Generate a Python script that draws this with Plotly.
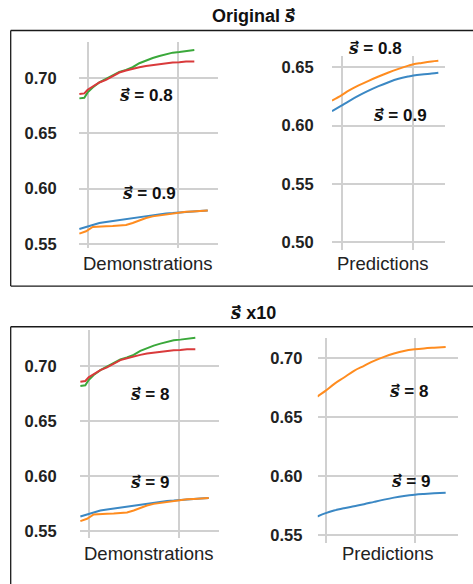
import plotly.graph_objects as go

W, H = 473, 584

# ---- data -------------------------------------------------------------
# Demonstrations panels (same curves in both sections)
demo_x_top = [9.04, 9.59, 9.96, 10.52, 11.26, 12.0, 12.74, 13.48, 14.22, 14.96,
              15.7, 16.44, 17.19, 17.93, 18.67, 19.41, 20.15, 20.89, 21.81]
demo_green = [0.6817, 0.6823, 0.6871, 0.6916, 0.6961, 0.6991, 0.7027, 0.7057, 0.7075, 0.7099,
              0.7135, 0.7162, 0.7183, 0.7201, 0.7219, 0.7231, 0.7237, 0.7246, 0.7255]
demo_red = [0.6856, 0.6862, 0.6895, 0.6925, 0.6961, 0.6985, 0.7021, 0.7051, 0.7069, 0.7087,
            0.7099, 0.7111, 0.7120, 0.7129, 0.7135, 0.7141, 0.7144, 0.7150, 0.7150]

demo_x_low = [9.04, 9.78, 10.52, 11.26, 12.0, 12.74, 13.48, 14.22, 14.96, 15.7,
              16.44, 17.19, 17.93, 18.67, 19.41, 20.15, 20.89, 21.63, 22.37, 23.3]
demo_blue = [0.5635, 0.5653, 0.5674, 0.5689, 0.5698, 0.5707, 0.5719, 0.5728, 0.5737, 0.5743,
             0.5755, 0.5764, 0.5770, 0.5776, 0.5779, 0.5785, 0.5788, 0.5794, 0.5797, 0.5803]
demo_orange = [0.5593, 0.5614, 0.5653, 0.5659, 0.5659, 0.5662, 0.5665, 0.5671, 0.5689, 0.5713,
               0.5734, 0.5749, 0.5758, 0.5767, 0.5776, 0.5785, 0.5790, 0.5794, 0.5800, 0.5803]

# Predictions, original s
pred1_x = [8.65, 9.96, 10.97, 12.36, 13.75, 15.14, 16.53, 17.92, 19.31, 20.0, 21.16, 22.54, 23.47]
pred1_orange = [0.6214, 0.6259, 0.6299, 0.6344, 0.6384, 0.6421, 0.6455, 0.6486, 0.6514, 0.6526,
                0.6537, 0.6549, 0.6555]
pred1_blue = [0.6123, 0.6171, 0.6208, 0.6256, 0.6299, 0.6338, 0.6372, 0.6401, 0.6421, 0.6429,
              0.6438, 0.6446, 0.6452]

# Predictions, s x10
pred2_x = [9.06, 10.0, 10.93, 12.06, 13.18, 14.3, 15.43, 16.55, 17.67, 18.8, 20.0, 21.04, 22.17, 23.48]
pred2_orange = [0.6675, 0.6725, 0.6781, 0.6837, 0.6894, 0.6936, 0.6978, 0.7012, 0.7040, 0.7062,
                0.7076, 0.7084, 0.7090, 0.7096]
pred2_blue = [0.5657, 0.5685, 0.5707, 0.5727, 0.5744, 0.5761, 0.5781, 0.5800, 0.5817, 0.5831,
              0.5842, 0.5848, 0.5853, 0.5859]

demo_ticks = [0.55, 0.60, 0.65, 0.70]
pred1_ticks = [0.50, 0.55, 0.60, 0.65]
pred2_ticks = [0.55, 0.60, 0.65, 0.70]
tick_text = lambda vals: [f"{v:.2f}" for v in vals]

GREEN, RED, BLUE, ORANGE = "#3aa83a", "#d93a3b", "#3b88c4", "#ff8c1f"
VEC_S = "<span style=\"font-family:'DejaVu Serif'\"><b><i>s</i></b>\u20d7</span>"

def px(p):
    return p / W

def py(p):
    return 1 - p / H

fig = go.Figure()

def line(x, y, color, ax, spline=False):
    fig.add_trace(go.Scatter(
        x=x, y=y, mode="lines", xaxis="x" + ax, yaxis="y" + ax,
        line=dict(color=color, width=2, shape="spline" if spline else "linear", smoothing=1.0),
        showlegend=False, hoverinfo="skip"))

line(demo_x_low, demo_blue, BLUE, "")
line(demo_x_low, demo_orange, ORANGE, "")
line(demo_x_top, demo_green, GREEN, "")
line(demo_x_top, demo_red, RED, "")

line(pred1_x, pred1_blue, BLUE, "2", True)
line(pred1_x, pred1_orange, ORANGE, "2", True)

line(demo_x_low, demo_blue, BLUE, "3")
line(demo_x_low, demo_orange, ORANGE, "3")
line(demo_x_top, demo_green, GREEN, "3")
line(demo_x_top, demo_red, RED, "3")

line(pred2_x, pred2_blue, BLUE, "4", True)
line(pred2_x, pred2_orange, ORANGE, "4", True)

tickfont = dict(family="Liberation Sans", size=16.5, color="#222222", weight="bold")
GRID = "#d0d0d0"

def xaxis(dom, rng, anchor):
    return dict(domain=[px(dom[0]), px(dom[1])], range=rng, anchor=anchor,
                tickvals=[10, 20], showticklabels=False, ticks="",
                showgrid=True, gridcolor=GRID, gridwidth=1.5,
                zeroline=False, showline=False, fixedrange=True)

def yaxis(dom, rng, anchor, ticks, gap):
    return dict(domain=[py(dom[1]), py(dom[0])], range=rng, anchor=anchor,
                tickvals=ticks, ticktext=tick_text(ticks), tickfont=tickfont,
                ticks="outside", ticklen=gap, tickcolor="rgba(0,0,0,0)",
                showgrid=True, gridcolor=GRID, gridwidth=1.5,
                zeroline=False, showline=False, fixedrange=True)

layout = dict(
    width=W, height=H, margin=dict(l=0, r=0, t=0, b=0),
    paper_bgcolor="white", plot_bgcolor="white",
    xaxis=xaxis((79, 218), [9.0, 24.44], "y"),
    yaxis=yaxis((42, 250), [0.546, 0.733], "x", demo_ticks, 18),
    xaxis2=xaxis((332, 445), [8.65, 24.4], "y2"),
    yaxis2=yaxis((56.7, 252), [0.493, 0.6594], "x2", pred1_ticks, 14),
    xaxis3=xaxis((80, 219), [9.0, 24.44], "y3"),
    yaxis3=yaxis((332.3, 541.7), [0.544, 0.7324], "x3", demo_ticks, 19),
    xaxis4=xaxis((317.7, 457.7), [9.1, 24.83], "y4"),
    yaxis4=yaxis((340, 546.7), [0.5432, 0.7175], "x4", pred2_ticks, 11),
)
fig.update_layout(**layout)

def label(text, x, y, size, bold=True, color="#111111"):
    fig.add_annotation(
        text=text, x=px(x), y=py(y), xref="paper", yref="paper",
        xanchor="center", yanchor="middle", showarrow=False,
        font=dict(family="Liberation Sans", size=size, color=color,
                  weight="bold" if bold else "normal"))

# section titles
label(f"Original {VEC_S}", 253.5, 15.5, 18)
label(f"{VEC_S} x10", 253, 314.5, 18)

# x-axis titles
label("Demonstrations", 148, 265, 18.5, bold=False, color="#222222")
label("Predictions", 383, 265, 18.5, bold=False, color="#222222")
label("Demonstrations", 148.5, 557, 18.5, bold=False, color="#222222")
label("Predictions", 387.5, 557, 18.5, bold=False, color="#222222")

# curve labels
label(f"{VEC_S} = 0.8", 146, 95.5, 17)
label(f"{VEC_S} = 0.9", 148.5, 194.5, 17)
label(f"{VEC_S} = 0.8", 375, 48.5, 17)
label(f"{VEC_S} = 0.9", 400, 115.5, 17)
label(f"{VEC_S} = 8", 149.7, 397, 17)
label(f"{VEC_S} = 9", 149.7, 485.3, 17)
label(f"{VEC_S} = 8", 408, 394, 17)
label(f"{VEC_S} = 9", 410.5, 484, 17)

# section frames (open on the right)
FRAME = dict(color="#1a1a1a", width=1.3)
for top, bottom in [(30.7, 288.0), (329.0, 590.0)]:
    fig.add_shape(type="line", xref="paper", yref="paper",
                  x0=px(10.7), x1=px(480), y0=py(top), y1=py(top), line=FRAME)
    fig.add_shape(type="line", xref="paper", yref="paper",
                  x0=px(10.7), x1=px(10.7), y0=py(top), y1=py(bottom), line=FRAME)
    fig.add_shape(type="line", xref="paper", yref="paper",
                  x0=px(10.7), x1=px(480), y0=py(bottom), y1=py(bottom), line=FRAME)

fig.write_html("out.html")
